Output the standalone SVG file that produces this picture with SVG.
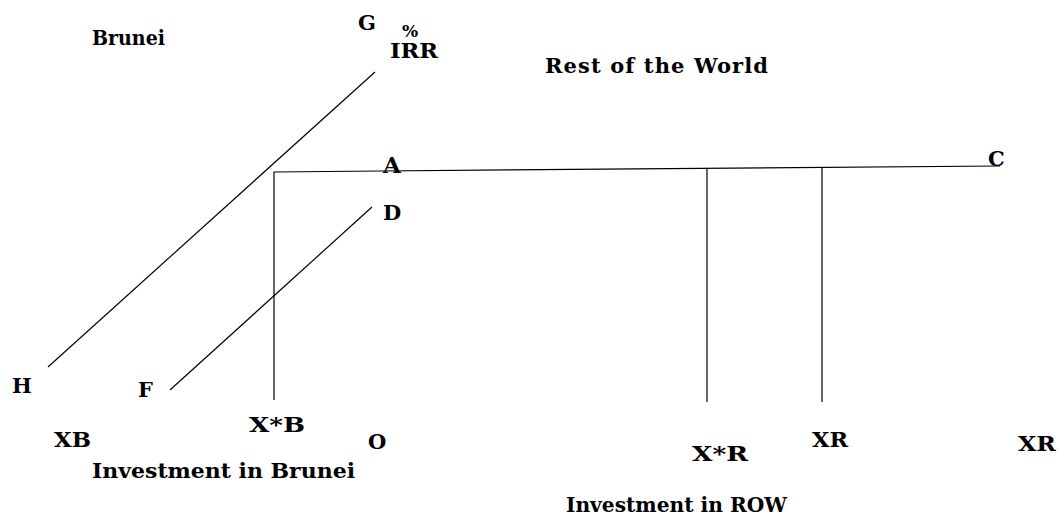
<svg xmlns="http://www.w3.org/2000/svg" width="1063" height="522" viewBox="0 0 1063 522">
<style>
text{font-family:"DejaVu Serif","Liberation Serif",serif;font-weight:bold;font-size:21px;fill:#000}
.ln{stroke:#000;stroke-width:1.2;fill:none}
</style>
<rect width="1063" height="522" fill="#fff"/>
<g id="connectors">
<line class="ln" x1="48" y1="367" x2="375" y2="72"/>
<line class="ln" x1="170" y1="390" x2="372" y2="207"/>
<polyline class="ln" points="274,400 274,172 380,171"/>
<line class="ln" x1="380" y1="171" x2="1000" y2="166"/>
<line class="ln" x1="707" y1="168" x2="707" y2="402"/>
<line class="ln" x1="822" y1="168" x2="822" y2="402"/>
</g>
<g id="labels">
<text id="brunei" x="92" y="45" textLength="73" lengthAdjust="spacingAndGlyphs">Brunei</text>
<text id="rest" x="545" y="73" textLength="223" lengthAdjust="spacing">Rest of the World</text>
<text id="G" x="358" y="30">G</text>
<text id="pct" x="402" y="37" style="font-size:17px">%</text>
<text id="IRR" x="390" y="58" textLength="48" lengthAdjust="spacingAndGlyphs">IRR</text>
<text id="A" x="383" y="173" style="font-size:23px">A</text>
<text id="C" x="988" y="166">C</text>
<text id="D" x="383" y="220">D</text>
<text id="H" x="12" y="393">H</text>
<text id="F" x="138" y="397">F</text>
<text id="XsB" x="249" y="432" textLength="56" lengthAdjust="spacingAndGlyphs">X*B</text>
<text id="XB" x="54" y="447" textLength="37" lengthAdjust="spacingAndGlyphs">XB</text>
<text id="O" x="368" y="449">O</text>
<text id="invB" x="92" y="478" textLength="263" lengthAdjust="spacingAndGlyphs">Investment in Brunei</text>
<text id="XsR" x="692" y="461" textLength="56" lengthAdjust="spacingAndGlyphs">X*R</text>
<text id="XR1" x="812" y="447" textLength="36" lengthAdjust="spacingAndGlyphs">XR</text>
<text id="XR2" x="1018" y="451" textLength="38" lengthAdjust="spacingAndGlyphs">XR</text>
<text id="invR" x="566" y="512" textLength="221" lengthAdjust="spacingAndGlyphs">Investment in ROW</text>
</g>
</svg>
